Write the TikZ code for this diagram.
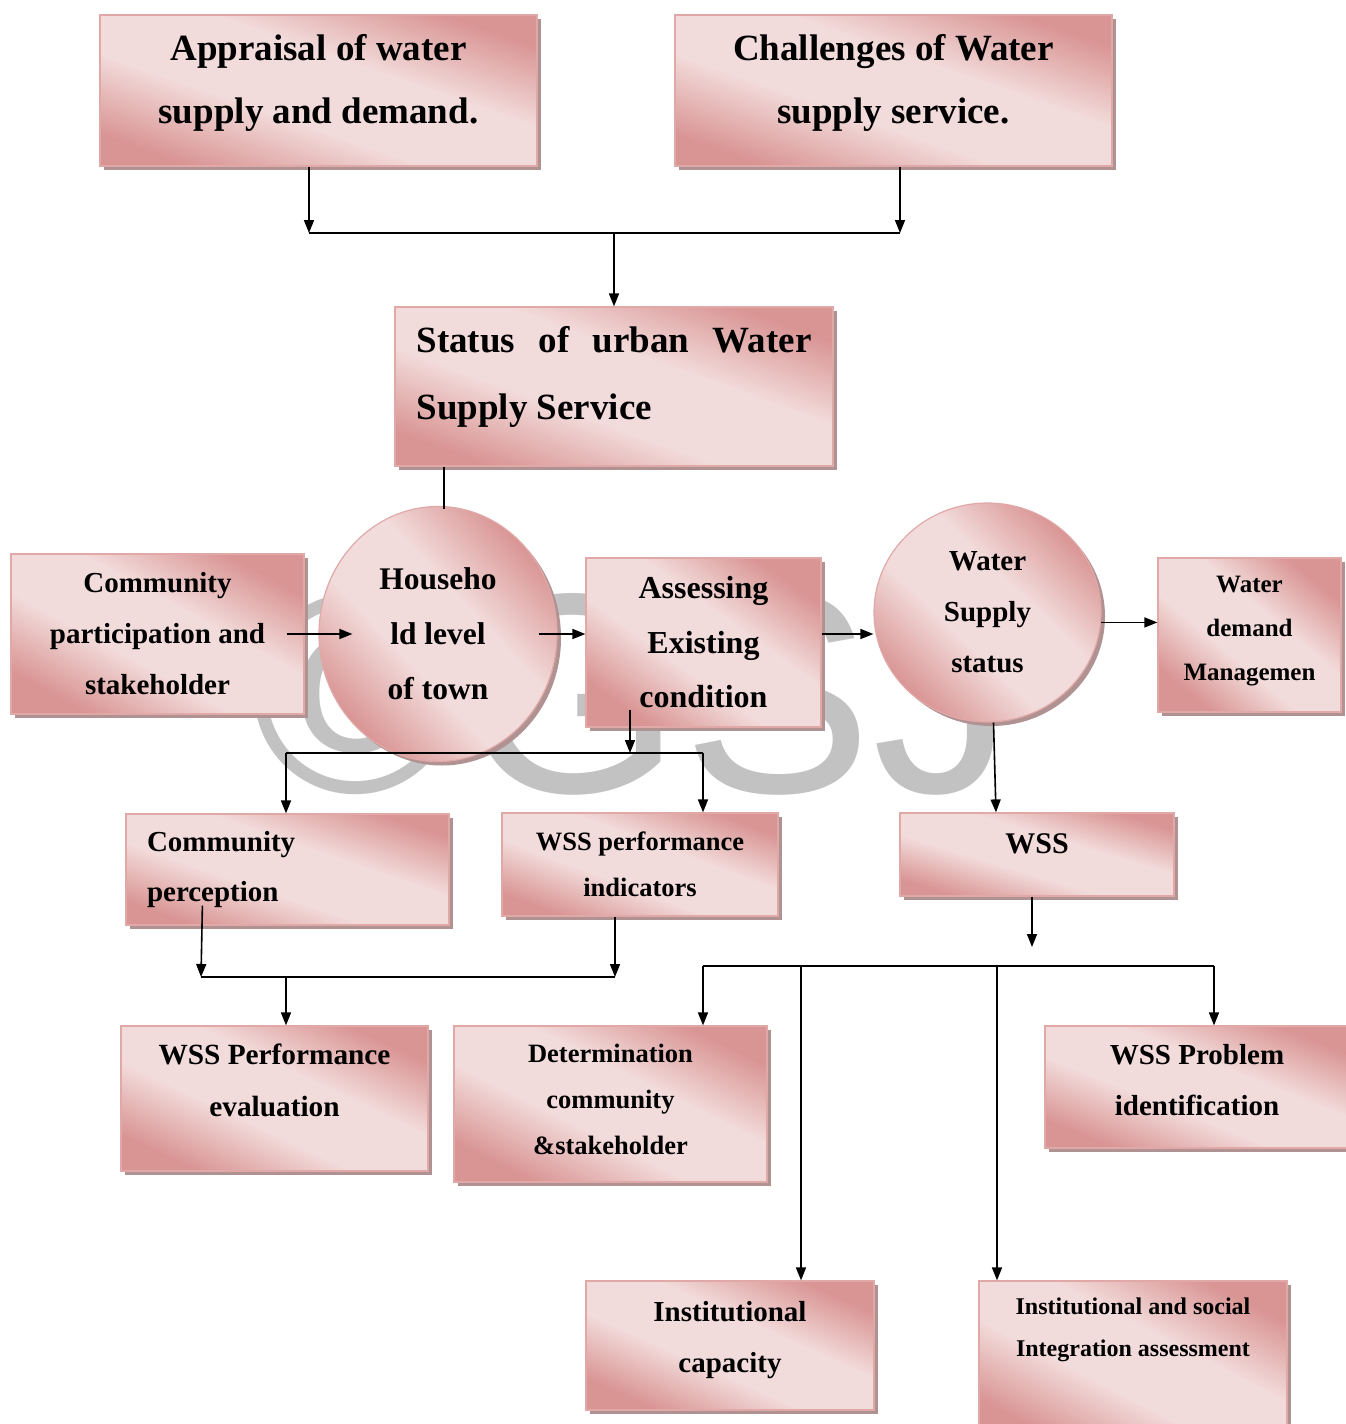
\documentclass[tikz,border=0pt]{standalone}
\usepackage{fontspec}
\setmainfont{Liberation Serif}
\newfontfamily\wmfont{Liberation Sans}
\usetikzlibrary{arrows.meta,positioning,shapes.geometric,shadows}
\definecolor{pkdark}{HTML}{D99594}
\definecolor{pklight}{HTML}{F2DCDB}
\definecolor{pkedge}{HTML}{E0A9A8}
\definecolor{shadowc}{HTML}{B09292}
\definecolor{wmgray}{HTML}{C2C2C2}
\pgfdeclareverticalshading{pinkband}{100bp}{color(0bp)=(pkdark); color(25bp)=(pkdark);
  color(42bp)=(pklight); color(58bp)=(pklight); color(75bp)=(pkdark); color(100bp)=(pkdark)}
\newcommand{\fsz}[2]{\fontsize{#1}{#2}\selectfont\bfseries}

\begin{document}
\begin{tikzpicture}[x=1pt,y=-1pt,
 box/.style={draw=pkedge,line width=1.2pt,shade,shading=pinkband,
   inner sep=0pt,align=center,
   drop shadow={shadow xshift=4pt,shadow yshift=-4pt,fill=shadowc,opacity=1}},
 bx/.code 2 args={\pgfmathsetmacro\bxang{-atan(#2/#1)}%
   \tikzset{minimum width=#1pt,minimum height=#2pt,shading angle/.expanded=\bxang}},
 conn/.style={line width=1.6pt,color=black},
 arr/.style={conn,-{Triangle[length=13pt,width=10pt]}}]
 \path[use as bounding box,fill=white] (0,0) rectangle (1345,1424);
 % watermark
 \node[font=\fontsize{285}{285}\selectfont\wmfont,text=wmgray,anchor=base,inner sep=0pt]
   (wm) at (633,792) {©GSJ};
 % boxes
 \node[box,bx={437}{151},font=\fsz{37}{63},text depth=24pt] (appr)
   at (318.5,90.5) {Appraisal of water\\supply and demand.};
 \node[box,bx={437}{151},font=\fsz{37}{63},text depth=23pt] (chal)
   at (893.5,90.5) {Challenges of Water\\supply service.};
 \node[box,bx={438}{159},font=\fsz{37}{67},text depth=94pt,
   align=justify,text width=395pt] (status) at (614,386.5)
   {Status of urban Water Supply Service};
 \node[box,bx={293}{160},font=\fsz{29}{51}] (comm)
   at (157.5,634) {Community\\participation and\\stakeholder};
 \node[box,ellipse,bx={238}{255},font=\fsz{31.5}{55}] (hh)
   at (438,634) {Househo\\ld level\\of town};
 \node[box,bx={235}{169},font=\fsz{32}{54.5}] (assess)
   at (703.5,642.5) {Assessing\\Existing\\condition};
 \node[box,ellipse,bx={227}{219},font=\fsz{29}{51}] (wsstat)
   at (987.5,612.5) {Water\\Supply\\status};
 \node[box,bx={183}{154},font=\fsz{25}{44},text depth=13.5pt] (demand)
   at (1249.5,635) {Water\\demand\\Managemen};
 \node[box,bx={274}{83},font=\fsz{30}{50},text depth=22pt] (wss)
   at (1037,854.5) {WSS};
 \node[box,bx={323}{111},font=\fsz{29}{50},
   align=left,text width=281pt] (cperc) at (287.5,869.5) {Community\\perception};
 \node[box,bx={276}{103},font=\fsz{26.5}{46}] (wssperf)
   at (640,864.5) {WSS performance\\indicators};
 \node[box,bx={307}{145},font=\fsz{29.3}{52},text depth=36pt] (eval)
   at (274.5,1098.5) {WSS Performance\\evaluation};
 \node[box,bx={313}{156},font=\fsz{26.5}{46},text depth=10pt] (det)
   at (610.5,1104) {Determination\\community\\\&stakeholder};
 \node[box,bx={304}{122},font=\fsz{29}{51},text depth=14pt] (prob)
   at (1197,1087) {WSS Problem\\identification};
 \node[box,bx={288}{129},font=\fsz{29}{51},text depth=18pt] (instcap)
   at (730,1345.5) {Institutional\\capacity};
 \node[box,bx={308}{160},font=\fsz{24}{42},text depth=67pt]
   (instsoc) at (1133,1361) {Institutional and social\\Integration assessment};
 % junctions
 \coordinate (h0) at (444,509);
 \coordinate (j1) at (309,233);
 \coordinate (j2) at (900,233);
 \coordinate (k1) at (630,753);
 \coordinate (k2) at (286,753);
 \coordinate (k3) at (703,753);
 \coordinate (m1) at (201,977);
 \coordinate (m2) at (615,977);
 \coordinate (m3) at (286,977);
 \coordinate (n0) at (1032,947);
 \coordinate (n1) at (703,966);
 \coordinate (n2) at (801,966);
 \coordinate (n3) at (997,966);
 \coordinate (n4) at (1214,966);
 % connectors
 \draw[arr] (appr.south -| j1) -- (j1);
 \draw[arr] (chal.south -| j2) -- (j2);
 \draw[conn] (j1) -- (j2);
 \draw[arr] (status.north |- j1) -- (status.north);
 \draw[conn] (status.south -| h0) -- (h0);
 \draw[arr] ([xshift=-18pt]comm.east) -- ([xshift=34pt]hh.west);
 \draw[arr] ([xshift=-19pt]hh.east) -- (assess.west |- hh.east);
 \draw[arr] (assess.east |- hh.east) -- (wsstat.west |- hh.east);
 \draw[arr] (wsstat.-5) -- (wsstat.-5 -| demand.west);
 \draw[arr] ([xshift=6pt]wsstat.south) -- ([xshift=-41pt]wss.north);
 \draw[arr] ([yshift=43pt]k1) -- (k1);
 \draw[conn] (k2) -- (k3);
 \draw[arr] (k2) -- (k2 |- cperc.north);
 \draw[arr] (k3) -- (k3 |- wssperf.north);
 \draw[arr] ([xshift=77pt,yshift=20pt]cperc.south west) -- (m1);
 \draw[arr] (wssperf.south -| m2) -- (m2);
 \draw[conn] (m1) -- (m2);
 \draw[arr] (m3) -- (m3 |- eval.north);
 \draw[arr] (wss.south -| n0) -- (n0);
 \draw[conn] (n1) -- (n4);
 \draw[arr] (n1) -- (n1 |- det.north);
 \draw[arr] (n2) -- (n2 |- instcap.north);
 \draw[arr] (n3) -- (n3 |- instsoc.north);
 \draw[arr] (n4) -- (n4 |- prob.north);
\end{tikzpicture}
\end{document}
